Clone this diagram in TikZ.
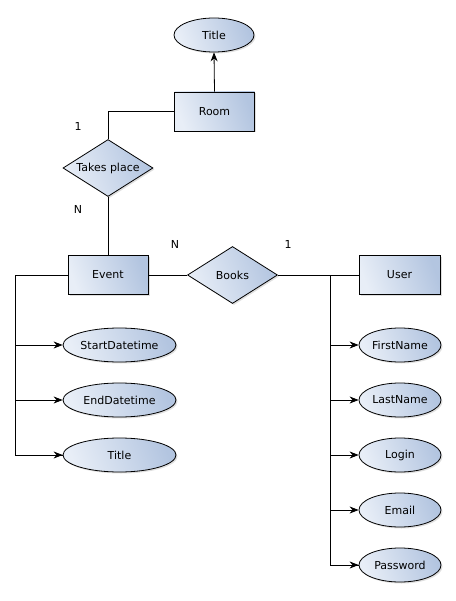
\documentclass[tikz,border=0pt]{standalone}
\usepackage{fontspec}
\setmainfont{DejaVu Sans}
\usetikzlibrary{arrows.meta,shapes.geometric,shadows}
\definecolor{fillA}{HTML}{E8EEF7}
\definecolor{fillB}{HTML}{B3C5E0}
\tikzset{
  shaded/.style={left color=fillA,right color=fillB,shading angle=110,draw=black,line width=0.8pt,
    drop shadow={shadow xshift=1.5pt,shadow yshift=-1.5pt,fill=black!25,opacity=0.5}},
  entity/.style={shaded,rectangle,minimum width=80pt,minimum height=39pt,inner sep=0pt},
  attr/.style={shaded,ellipse,minimum height=34pt,inner sep=0pt},
  rel/.style={shaded,diamond,minimum width=90pt,minimum height=57pt,inner sep=0pt,aspect=1.6},
  link/.style={line width=0.8pt},
  arr/.style={link,-{Stealth[length=9pt,width=7pt]}},
  card/.style={font=\fontsize{11}{13}\selectfont},
  every node/.style={font=\fontsize{11}{13}\selectfont}
}
\begin{document}
\begin{tikzpicture}[x=1pt,y=-1pt]
\useasboundingbox (0,0) rectangle (455,601);
% entities
\node[entity] (room) at (214.5,111.5) {Room};
\node[entity] (event) at (108,275) {Event};
\node[entity,minimum width=81pt] (user) at (399.5,275) {User};
% relationships
\node[rel] (takes) at (108,168) {Takes place};
\node[rel] (books) at (232.5,275) {Books};
% attributes
\node[attr,minimum width=80pt] (rtitle) at (214,35) {Title};
\node[attr,minimum width=113pt] (start) at (119.5,345) {StartDatetime};
\node[attr,minimum width=113pt] (end) at (119.5,400) {EndDatetime};
\node[attr,minimum width=113pt] (etitle) at (119.5,455) {Title};
\node[attr,minimum width=82pt] (first) at (400,345) {FirstName};
\node[attr,minimum width=82pt] (last) at (400,400) {LastName};
\node[attr,minimum width=82pt] (login) at (400,455) {Login};
\node[attr,minimum width=82pt] (email) at (400,510) {Email};
\node[attr,minimum width=82pt] (pass) at (400,565) {Password};
% branch points
\coordinate (ej) at (15,275);
\coordinate (uj) at (330,275);
% connectors
\draw[arr] (room.north) -- (rtitle.south);
\draw[link] (room.west) -| (takes.north);
\draw[link] (takes.south) -- (event.north);
\draw[link] (event.east) -- (books.west);
\draw[link] (books.east) -- (user.west);
\draw[link] (event.west) -- (ej) |- (etitle.west);
\draw[arr] (ej |- start.west) -- (start.west);
\draw[arr] (ej |- end.west) -- (end.west);
\draw[arr] (ej |- etitle.west) -- (etitle.west);
\draw[link] (uj) |- (pass.west);
\foreach \n in {first,last,login,email,pass}
  \draw[arr] (uj |- \n.west) -- (\n.west);
% cardinalities
\node[card] (c1) at (78,126) {1};
\node[card] (c2) at (78,209) {N};
\node[card] (c3) at (175,244) {N};
\node[card] (c4) at (288,244) {1};
\end{tikzpicture}
\end{document}
